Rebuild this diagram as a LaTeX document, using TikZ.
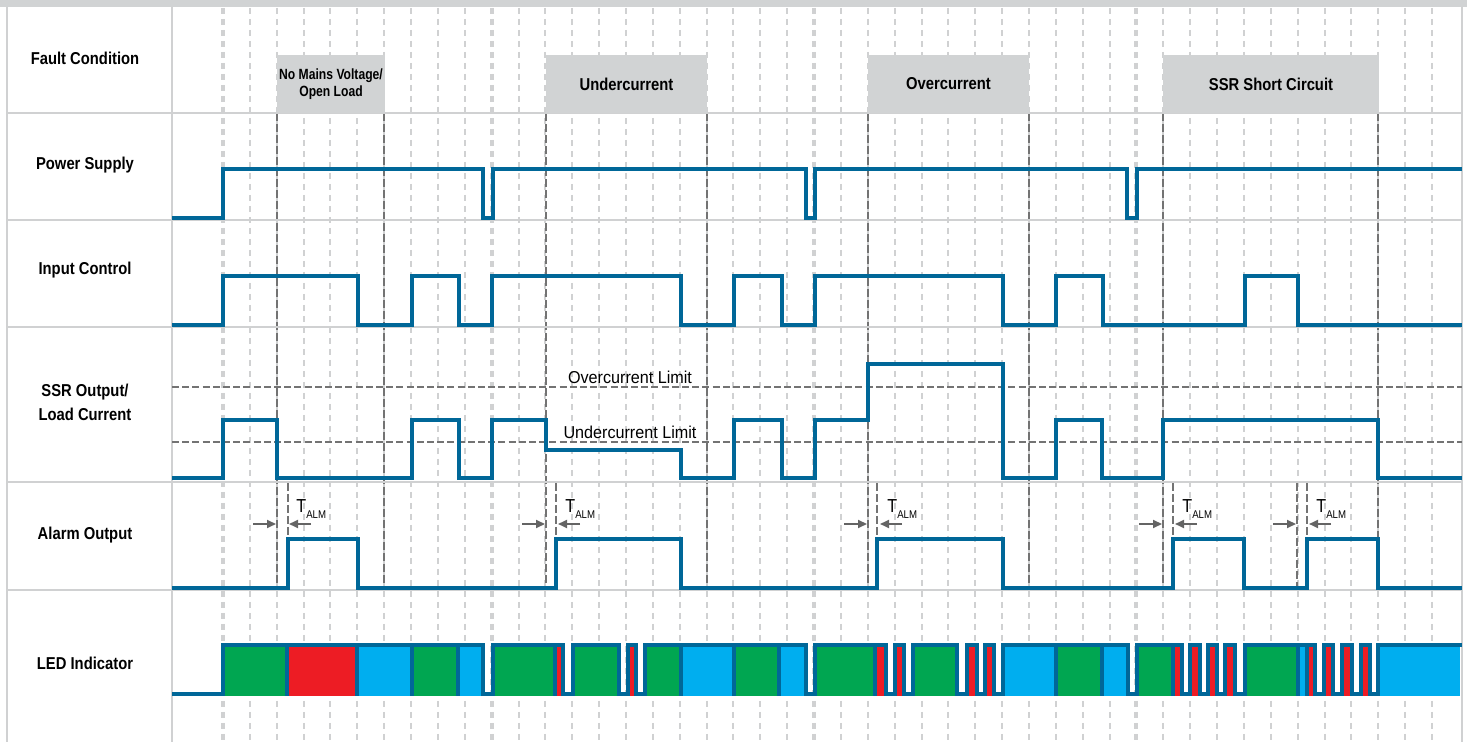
\documentclass[tikz,border=0pt]{standalone}
\usepackage{fontspec}
\setmainfont{Liberation Sans}
\newfontfamily\condfont[FakeStretch=0.86]{Liberation Sans}
\newfontfamily\narrowfont[FakeStretch=0.82]{Liberation Sans}
\newfontfamily\limitfont[FakeStretch=0.94]{Liberation Sans}
\usetikzlibrary{arrows.meta}

\definecolor{sigblue}{RGB}{0,103,152}
\definecolor{gridgray}{RGB}{208,209,210}
\definecolor{boxgray}{RGB}{209,211,212}
\definecolor{markgray}{RGB}{115,115,115}
\definecolor{arrowgray}{RGB}{100,100,100}
\definecolor{ledgreen}{RGB}{0,166,81}
\definecolor{ledred}{RGB}{237,28,36}
\definecolor{ledcyan}{RGB}{0,174,239}

\begin{document}
\begin{tikzpicture}[x=0.5pt, y=-0.5pt,
    sig/.style={draw=sigblue, line width=1.6pt},
    ledsig/.style={draw=sigblue, line width=1.9pt},
    gridline/.style={draw=gridgray, line width=1pt, dash pattern=on 2.8pt off 2.7pt},
    gridmajor/.style={gridline, line width=2pt},
    faultmark/.style={draw=markgray, line width=0.6pt, dash pattern=on 4pt off 1.5pt},
    limitline/.style={draw=markgray, line width=0.9pt, dash pattern=on 3.5pt off 1.6pt},
    borderline/.style={draw=gridgray, line width=1.3pt},
    rowlabel/.style={font=\condfont\bfseries\fontsize{8.6}{12}\selectfont, align=center},
    faultbox/.style={fill=boxgray, minimum height=29pt, inner sep=0pt, align=center,
      font=\condfont\bfseries\fontsize{8.6}{10}\selectfont},
    limitlabel/.style={font=\limitfont\fontsize{8.6}{10}\selectfont, inner sep=0pt},
    talm/.style={draw=arrowgray, line width=1pt, -{Triangle[length=4.5pt,width=4pt]}},
    talmlabel/.style={font=\condfont\fontsize{9.4}{10}\selectfont, anchor=base west, inner sep=0pt}
  ]
  \useasboundingbox (0,0) rectangle (1467,742);

  % Grid
  \foreach \k in {0,...,45}
    \draw[gridline] (223+26.867*\k,8) -- (223+26.867*\k,742);
  \foreach \k in {0,10,22,34}
    \draw[gridmajor] (223+26.867*\k,8) -- (223+26.867*\k,742);
  \foreach \x in {277,384,546,707,868,1029,1163,1378}
    \draw[faultmark] (\x,113) -- (\x,590);
  \draw[faultmark] (1297,483) -- (1297,590);
  \foreach \x in {288,556,877,1173,1307}
    \draw[faultmark] (\x,483) -- (\x,539);

  % Frame
  \fill[boxgray] (0,0) rectangle (1467,7.5);
  \foreach \x in {7,172,1462}
    \draw[borderline] (\x,7) -- (\x,742);
  \foreach \y in {113,220,327,482,590}
    \draw[borderline] (7,\y) -- (1462,\y);

  % Row labels
  \node[rowlabel] (fault) at (85,58) {Fault Condition};
  \node[rowlabel] (power) at (85,165) {Power Supply};
  \node[rowlabel] (input) at (85,270) {Input Control};
  \node[rowlabel] (ssr) at (85,402) {SSR Output/\\Load Current};
  \node[rowlabel] (alarm) at (85,535) {Alarm Output};
  \node[rowlabel] (led) at (85,663) {LED Indicator};

  % Fault boxes
  \node[faultbox, minimum width=54pt, font=\narrowfont\bfseries\fontsize{7.4}{8.5}\selectfont]
    (nomains) at (331,84) {No Mains Voltage/\\Open Load};
  \node[faultbox, minimum width=80.5pt] (under) at (626.5,84) {Undercurrent};
  \node[faultbox, minimum width=80.5pt] (over) at (948.5,84) {Overcurrent};
  \node[faultbox, minimum width=108pt] (short) at (1271,84) {SSR Short Circuit};

  % Limits
  \draw[limitline] (172,387) -- (1462,387);
  \draw[limitline] (172,442) -- (1462,442);
  \node[limitlabel] (overlim) at (630,377) {Overcurrent Limit};
  \node[limitlabel] (underlim) at (630,432) {Undercurrent Limit};

  % Signals
  \draw[sig] (172,218) -| (223,169) -| (483,218) -| (493,169) -| (806,218) -| (815,169)
    -| (1127,218) -| (1137,169) -- (1462,169);
  \draw[sig] (172,325) -| (223,276) -| (358,325) -| (412,276) -| (459,325) -| (492,276)
    -| (681,325) -| (734,276) -| (782,325) -| (815,276) -| (1003,325) -| (1056,276)
    -| (1103,325) -| (1245,276) -| (1298,325) -- (1462,325);
  \draw[sig] (172,478) -| (223,420) -| (277,478) -| (412,420) -| (459,478) -| (492,420)
    -| (546,450) -| (681,478) -| (734,420) -| (782,478) -| (815,420) -| (868,364)
    -| (1003,478) -| (1056,420) -| (1102,478) -| (1163,420) -| (1378,478) -- (1462,478);
  \draw[sig] (172,588) -| (288,539) -| (358,588) -| (556,539) -| (681,588) -| (877,539)
    -| (1003,588) -| (1173,539) -| (1244,588) -| (1307,539) -| (1378,588) -- (1462,588);

  % LED
  \foreach \a/\b/\c in {223/287/ledgreen, 287/357/ledred, 357/412/ledcyan, 412/458/ledgreen,
      458/483/ledcyan, 493/555/ledgreen, 555/563/ledred, 573/619/ledgreen, 628/636/ledred,
      645/681/ledgreen, 681/734/ledcyan, 734/779/ledgreen, 779/806/ledcyan,
      815/875/ledgreen, 875/886/ledred, 895/904/ledred, 913/957/ledgreen, 967/977/ledred,
      985/994/ledred, 1003/1056/ledcyan, 1056/1102/ledgreen, 1102/1128/ledcyan,
      1137/1173/ledgreen, 1173/1182/ledred, 1190/1200/ledred, 1208/1217/ledred,
      1225/1235/ledred, 1245/1298/ledgreen, 1298/1307/ledcyan, 1307/1315/ledred,
      1324/1333/ledred, 1342/1352/ledred, 1361/1370/ledred, 1378/1460/ledcyan}
    \fill[\c] (\a,645) rectangle (\b,696);
  \draw[ledsig] (172,694) -| (223,645) -| (483,694) -| (493,645) -| (563,694) -| (573,645)
    -| (619,694) -| (628,645) -| (636,694) -| (645,645) -| (806,694) -| (815,645)
    -| (886,694) -| (895,645) -| (904,694) -| (913,645) -| (957,694) -| (967,645)
    -| (977,694) -| (985,645) -| (994,694) -| (1003,645) -| (1128,694) -| (1137,645)
    -| (1182,694) -| (1190,645) -| (1200,694) -| (1208,645) -| (1217,694) -| (1225,645)
    -| (1235,694) -| (1245,645) -| (1315,694) -| (1324,645) -| (1333,694) -| (1342,645)
    -| (1352,694) -| (1361,645) -| (1370,694) -| (1378,645) -- (1462,645);
  \foreach \x in {287,357,412,458,555,681,734,779,875,1056,1102,1173,1298,1307}
    \draw[ledsig] (\x,645) -- (\x,696);

  % Alarm delay
  \foreach \f [count=\n] in {277,546,868,1163,1297} {
    \coordinate (tin\n) at (\f-24,524);
    \coordinate (tend\n) at (\f-1,524);
    \coordinate (tout\n) at (\f+34,524);
    \coordinate (trise\n) at (\f+12,524);
    \draw[talm] (tin\n) -- (tend\n);
    \draw[talm] (tout\n) -- (trise\n);
    \node[talmlabel] (talm\n) at (\f+19,513) {T\raisebox{-3pt}{\fontsize{5.6}{6}\selectfont ALM}};
  }
\end{tikzpicture}
\end{document}
